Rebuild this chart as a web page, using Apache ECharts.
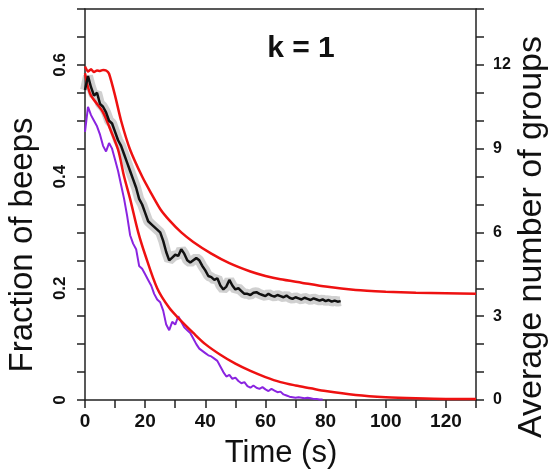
<!DOCTYPE html>
<html>
<head>
<meta charset="utf-8">
<script src="https://cdn.jsdelivr.net/npm/echarts@6/dist/echarts.min.js"></script>
<style>html,body{margin:0;padding:0;background:#fff;overflow:hidden;}#c{width:555px;height:470px;}</style>
</head>
<body>
<div id="c"></div>
<script>
// ---- data ----
const xTickLabels = [0, 20, 40, 60, 80, 100, 120];
const leftTickLabels = [0, 0.2, 0.4, 0.6];
const rightTickLabels = [0, 3, 6, 9, 12];

const redUpperT = [0,1,2,3,4,5,6,7,8,10,12,15,19,22,25,28,32,36,42,48,55,60,65,72,80,90,100,110,120,130];
const redUpperV = [0.597,0.588,0.592,0.587,0.59,0.589,0.591,0.59,0.584,0.545,0.50,0.448,0.40,0.37,0.342,0.322,0.30,0.283,0.262,0.245,0.23,0.222,0.216,0.21,0.203,0.197,0.194,0.192,0.191,0.19];

const redLowerT = [0,1,2,4,6,8,11,13,15,17.7,20,24,28,31.7,36,40,45,50,55,60,65,70,75,80,90,100,110,120,130];
const redLowerV = [0.585,0.56,0.545,0.53,0.515,0.49,0.448,0.40,0.36,0.30,0.26,0.20,0.165,0.143,0.12,0.10,0.081,0.065,0.052,0.041,0.032,0.026,0.021,0.016,0.009,0.005,0.003,0.002,0.002];

// black: t = 0..85 s, 1 s steps
const blackV = [0.555,0.58,0.56,0.545,0.55,0.53,0.525,0.515,0.50,0.495,0.48,0.465,0.455,0.44,0.425,0.41,0.395,0.38,0.36,0.35,
0.335,0.32,0.315,0.31,0.305,0.30,0.285,0.265,0.25,0.255,0.26,0.258,0.27,0.262,0.25,0.246,0.25,0.254,0.25,0.24,
0.232,0.222,0.22,0.215,0.218,0.205,0.198,0.203,0.215,0.205,0.198,0.20,0.195,0.19,0.19,0.188,0.192,0.193,0.19,0.188,
0.186,0.19,0.187,0.185,0.188,0.186,0.184,0.187,0.183,0.181,0.184,0.182,0.18,0.183,0.181,0.179,0.182,0.18,0.178,0.18,
0.177,0.179,0.176,0.178,0.176,0.177];

// purple: t = 0..79 s, 1 s steps
const purpleV = [0.48,0.525,0.51,0.50,0.49,0.475,0.455,0.445,0.46,0.45,0.43,0.41,0.385,0.36,0.33,0.295,0.28,0.27,0.24,0.235,
0.225,0.215,0.205,0.19,0.18,0.175,0.16,0.135,0.125,0.14,0.135,0.15,0.14,0.13,0.125,0.12,0.11,0.10,0.092,0.088,
0.084,0.08,0.078,0.074,0.07,0.06,0.05,0.042,0.045,0.038,0.04,0.034,0.03,0.032,0.025,0.022,0.026,0.022,0.02,0.023,
0.019,0.016,0.02,0.017,0.014,0.015,0.01,0.008,0.006,0.005,0.004,0.005,0.004,0.003,0.004,0.003,0.002,0.002,0.001,0.001];

// ---- build ----
const pairs = (ts, vs) => ts.map((t, i) => [t, vs[i]]);
const stepPairs = vs => vs.map((v, i) => [i, v]);

const chart = echarts.init(document.getElementById('c'), null, {renderer: 'canvas'});
const axisColor = '#222';
const fontFam = '"Liberation Sans", Arial, Helvetica, sans-serif';
const near = (a, b) => Math.abs(a - b) < 1e-6;

chart.setOption({
  animation: false,
  backgroundColor: '#fff',
  grid: {left: 85, right: 79, top: 9, bottom: 70, containLabel: false, outerBoundsMode: 'none'},
  xAxis: [{
    type: 'value', min: 0, max: 130, interval: 10, position: 'bottom',
    axisLine: {show: true, onZero: false, lineStyle: {color: axisColor, width: 1.5}},
    axisTick: {show: true, length: 8, lineStyle: {color: axisColor, width: 1.5}},
    axisLabel: {margin: 12, fontFamily: fontFam, fontSize: 19, fontWeight: 'bold', color: '#111',
      formatter: v => xTickLabels.some(l => near(l, v)) ? String(v) : ''},
    splitLine: {show: false}
  }, {
    type: 'value', min: 0, max: 130, position: 'top',
    axisLine: {show: true, onZero: false, lineStyle: {color: axisColor, width: 1.5}},
    axisTick: {show: false}, axisLabel: {show: false}, splitLine: {show: false}
  }],
  yAxis: [{
    type: 'value', min: 0, max: 0.7, interval: 0.05, position: 'left',
    axisLine: {show: true, onZero: false, lineStyle: {color: axisColor, width: 1.5}},
    axisTick: {show: true, length: 8, lineStyle: {color: axisColor, width: 1.5}},
    axisLabel: {rotate: 90, margin: 16, fontFamily: fontFam, fontSize: 17, fontWeight: 'bold', color: '#111',
      formatter: v => {
        const l = leftTickLabels.find(x => near(x, v));
        return l === undefined ? '' : (l === 0 ? '0' : l.toFixed(1));
      }},
    splitLine: {show: false}
  }, {
    type: 'value', min: 0, max: 14, interval: 1, position: 'right',
    axisLine: {show: true, onZero: false, lineStyle: {color: axisColor, width: 1.5}},
    axisTick: {show: true, length: 8, lineStyle: {color: axisColor, width: 1.5}},
    axisLabel: {margin: 17, fontFamily: fontFam, fontSize: 16, fontWeight: 'bold', color: '#111',
      formatter: v => rightTickLabels.some(l => near(l, v)) ? String(v) : ''},
    splitLine: {show: false}
  }],
  graphic: [
    {type: 'text', x: 23, y: 245, rotation: Math.PI / 2,
      style: {text: 'Fraction of beeps', font: '33px ' + fontFam, fill: '#111', textAlign: 'center', textVerticalAlign: 'middle'}},
    {type: 'text', x: 532, y: 237, rotation: Math.PI / 2,
      style: {text: 'Average number of groups', font: '34px ' + fontFam, fill: '#111', textAlign: 'center', textVerticalAlign: 'middle'}},
    {type: 'text', x: 281, y: 453,
      style: {text: 'Time (s)', font: '31px ' + fontFam, fill: '#111', textAlign: 'center', textVerticalAlign: 'middle'}},
    {type: 'text', x: 301, y: 49,
      style: {text: 'k = 1', font: 'bold 30px ' + fontFam, fill: '#111', textAlign: 'center', textVerticalAlign: 'middle'}}
  ],
  series: [
    {type: 'line', name: 'band', data: stepPairs(blackV), showSymbol: false, z: 1,
      lineStyle: {color: 'rgba(150,150,150,0.45)', width: 10}, silent: true},
    {type: 'line', name: 'purple', data: stepPairs(purpleV), showSymbol: false, z: 2,
      lineStyle: {color: '#8a24e0', width: 2}},
    {type: 'line', name: 'redLower', data: pairs(redLowerT, redLowerV), showSymbol: false, smooth: 0.3, z: 3,
      lineStyle: {color: '#ee1111', width: 2.5}},
    {type: 'line', name: 'redUpper', data: pairs(redUpperT, redUpperV), showSymbol: false, smooth: 0.2, z: 3,
      lineStyle: {color: '#ee1111', width: 2.5}},
    {type: 'line', name: 'black', data: stepPairs(blackV), showSymbol: false, z: 4,
      lineStyle: {color: '#111', width: 2.5}}
  ]
});
</script>
</body>
</html>
